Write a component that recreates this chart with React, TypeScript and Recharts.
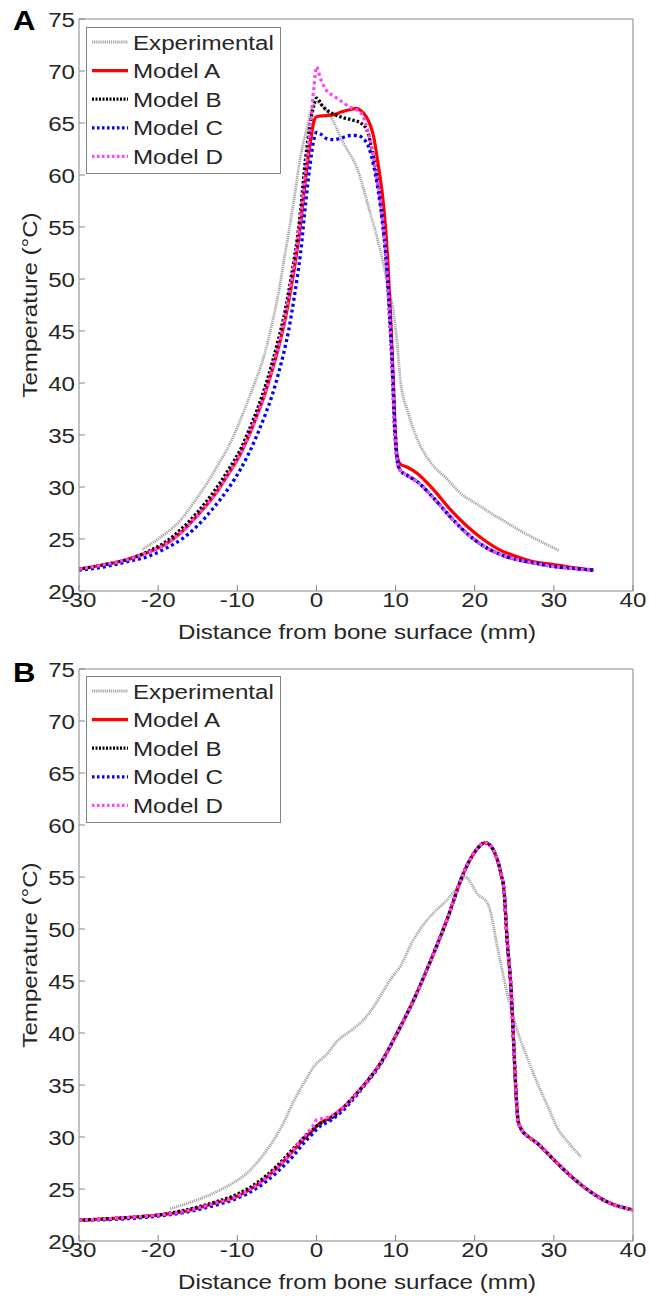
import React from 'react';
import { LineChart, Line, XAxis, YAxis } from 'recharts';

const FONT = '"Liberation Sans", Arial, Helvetica, sans-serif';
const SX = 1.15;
const TXT = '#262626';
const BOX = '#858585';

const xTicks = [-30, -20, -10, 0, 10, 20, 30, 40];
const yTicks = [20, 25, 30, 35, 40, 45, 50, 55, 60, 65, 70, 75];
const xLabel = 'Distance from bone surface (mm)';
const yLabel = 'Temperature (°C)';
const seriesNames = ['Experimental', 'Model A', 'Model B', 'Model C', 'Model D'];

// ---------- Panel A ----------
const expA: [number, number][] = [
  [-22, 24.0], [-20, 25.0], [-17.2, 26.8], [-15.5, 28.5], [-13.8, 30.4], [-12.3, 32.3],
  [-10.9, 34.2], [-9.8, 36.1], [-8.8, 38.0], [-7.8, 40.0], [-6.9, 41.9], [-6.1, 44.1],
  [-5.4, 46.4], [-4.7, 49.0], [-4.1, 51.8], [-3.5, 54.5], [-2.9, 57.3], [-2.0, 61.8],
  [-1.2, 64.5], [-0.5, 66.5], [0.2, 67.0], [0.9, 66.5], [1.8, 65.6], [3.4, 63.1],
  [5.2, 60.5], [6.7, 56.6], [8.0, 53.0], [9.0, 49.5], [9.8, 46.5], [10.3, 43.0],
  [10.6, 40.3], [11.6, 37.1], [12.8, 34.5], [14.4, 32.4], [16.6, 30.7], [18.2, 29.4],
  [20.4, 28.3], [22.0, 27.5], [24.0, 26.6], [26.2, 25.6], [28.5, 24.7], [30.6, 23.9],
];

const modelAA: [number, number][] = [
  [-30, 22.1], [-27, 22.5], [-24, 23.0], [-21, 23.8], [-19.3, 24.4], [-17, 25.7],
  [-15, 27.3], [-13, 29.1], [-11, 31.4], [-9.6, 33.2], [-8.5, 35.0], [-7.5, 36.9],
  [-6.5, 39.0], [-5.6, 41.2], [-4.8, 43.4], [-4.1, 45.6], [-3.5, 47.9], [-2.9, 50.5],
  [-2.4, 53.0], [-2.0, 55.3], [-1.4, 59.5], [-0.8, 63.0], [-0.3, 65.2], [0, 65.6],
  [1.0, 65.7], [2.2, 65.8], [3.3, 66.1], [4.3, 66.3], [5.0, 66.4], [5.6, 66.2],
  [6.3, 65.6], [6.8, 64.8], [7.2, 63.8], [7.8, 61.0], [8.5, 57.0], [9.0, 52.0],
  [9.4, 46.0], [9.7, 40.5], [9.95, 35.5], [10.2, 33.0], [10.6, 32.2], [11.5, 31.9],
  [12.75, 31.3], [14.85, 29.7], [16.96, 27.8], [19.07, 26.2], [21.18, 24.9], [23.29, 23.9],
  [25.4, 23.3], [27.5, 22.8], [29.6, 22.6], [32, 22.3], [35, 22.0],
];

const modelBA: [number, number][] = [
  [-30, 22.1], [-27, 22.5], [-24, 23.0], [-21, 23.9], [-19.3, 24.6], [-17, 26.0],
  [-15, 27.6], [-13, 29.5], [-11, 31.8], [-9.6, 33.6], [-8.5, 35.5], [-7.5, 37.4],
  [-6.5, 39.6], [-5.6, 41.9], [-4.8, 44.2], [-4.1, 46.4], [-3.5, 48.8], [-2.9, 51.5],
  [-2.4, 54.0], [-2.0, 56.6], [-1.4, 61.4], [-0.8, 64.8], [-0.3, 66.8], [0, 67.4],
  [0.8, 66.6], [1.8, 66.0], [3.0, 65.6], [4.5, 65.3], [5.6, 65.0], [6.4, 64.3],
  [7.0, 62.5], [7.5, 60.5], [8.1, 57.5], [8.7, 53.0], [9.2, 47.0], [9.6, 41.0],
  [9.85, 36.0], [10.1, 33.2], [10.5, 31.7], [11.5, 31.1], [12.75, 30.5], [14.85, 28.9],
  [16.96, 27.1], [19.07, 25.5], [21.18, 24.3], [23.29, 23.5], [25.4, 23.0], [27.5, 22.7],
  [29.6, 22.4], [32, 22.2], [35, 22.0],
];

const modelCA: [number, number][] = [
  [-30, 22.0], [-27, 22.3], [-24, 22.8], [-21, 23.4], [-19.3, 24.0], [-17, 25.0],
  [-15, 26.3], [-13, 28.0], [-11, 30.0], [-9.6, 31.7], [-8.5, 33.3], [-7.5, 35.0],
  [-6.5, 36.9], [-5.6, 38.8], [-4.8, 40.9], [-4.1, 43.0], [-3.5, 45.1], [-2.9, 47.8],
  [-2.4, 50.3], [-2.0, 52.5], [-1.4, 57.0], [-0.8, 61.0], [-0.3, 63.5], [0, 64.1],
  [0.6, 63.9], [1.3, 63.5], [2.2, 63.4], [3.3, 63.6], [4.3, 63.8], [5.2, 63.8],
  [5.9, 63.5], [6.6, 62.7], [7.2, 61.0], [7.8, 58.5], [8.4, 55.0], [9.0, 50.0],
  [9.4, 45.0], [9.7, 40.0], [9.95, 35.5], [10.2, 32.8], [10.6, 31.6], [11.5, 31.1],
  [12.75, 30.5], [14.85, 28.9], [16.96, 27.1], [19.07, 25.5], [21.18, 24.3], [23.29, 23.5],
  [25.4, 23.0], [27.5, 22.7], [29.6, 22.4], [32, 22.2], [35, 22.0],
];

const modelDA: [number, number][] = [
  [-30, 22.1], [-27, 22.5], [-24, 23.0], [-21, 23.8], [-19.3, 24.4], [-17, 25.7],
  [-15, 27.3], [-13, 29.1], [-11, 31.4], [-9.6, 33.2], [-8.5, 35.0], [-7.5, 36.9],
  [-6.5, 39.0], [-5.6, 41.3], [-4.8, 43.6], [-4.1, 45.9], [-3.5, 48.3], [-2.9, 51.0],
  [-2.4, 53.6], [-2.0, 56.0], [-1.4, 60.3], [-0.8, 64.5], [-0.3, 68.5], [0, 70.4],
  [0.5, 69.3], [1.2, 68.2], [2.2, 67.6], [3.3, 67.0], [4.3, 66.5], [5.0, 66.3],
  [5.6, 66.0], [6.4, 64.5], [7.0, 62.6], [7.5, 60.5], [8.1, 57.5], [8.7, 53.0],
  [9.2, 47.0], [9.6, 41.0], [9.85, 36.0], [10.1, 33.2], [10.5, 31.7], [11.5, 31.1],
  [12.75, 30.5], [14.85, 28.9], [16.96, 27.1], [19.07, 25.5], [21.18, 24.3], [23.29, 23.5],
  [25.4, 23.0], [27.5, 22.7], [29.6, 22.4], [32, 22.2], [35, 22.0],
];

// ---------- Panel B ----------
const expB: [number, number][] = [
  [-18.5, 23.1], [-16, 23.7], [-13, 24.6], [-10.5, 25.6], [-8.8, 26.5], [-7, 28.0],
  [-5.4, 29.7], [-4, 31.6], [-2.9, 33.4], [-1.5, 35.3], [-0.3, 36.8], [1.35, 38.0],
  [2.6, 39.2], [4.3, 40.2], [6.0, 41.3], [7.3, 42.6], [8.5, 44.1], [9.6, 45.4],
  [10.6, 46.4], [12.0, 48.6], [13.6, 50.5], [15.0, 51.7], [16.5, 52.8], [17.8, 54.0],
  [18.9, 55.0], [19.6, 54.3], [20.3, 53.4], [21.6, 52.5], [22.2, 51.0], [22.7, 48.9],
  [23.4, 46.3], [24.1, 43.8], [25.0, 41.2], [25.8, 39.3], [26.8, 37.3], [27.9, 35.2],
  [29.2, 33.0], [30.5, 30.8], [31.8, 29.5], [33.4, 28.1],
];

const modelAB: [number, number][] = [
  [-30, 22.0], [-25, 22.2], [-20, 22.5], [-17, 22.8], [-13, 23.6], [-10, 24.3],
  [-7.5, 25.4], [-5, 27.0], [-2.9, 28.7], [-1.5, 29.9], [-0.5, 30.6], [0.1, 31.1],
  [1.8, 31.9], [3.0, 32.6], [4.5, 33.7], [6.0, 35.0], [8.1, 37.1], [10.2, 40.0],
  [12.3, 43.2], [14.4, 46.9], [16.5, 50.9], [18.6, 55.4], [20.3, 57.7], [21.3, 58.3],
  [22.0, 58.0], [22.7, 57.0], [23.3, 55.4], [23.7, 53.7], [24.1, 48.9], [24.6, 44.1],
  [25.0, 37.7], [25.2, 34.5], [25.5, 31.5], [26.0, 30.6], [26.5, 30.2], [27.9, 29.4],
  [30.0, 27.8], [32.2, 26.2], [34.3, 24.9], [37.2, 23.6], [40, 23.0],
];

const modelBB: [number, number][] = [
  [-30, 22.0], [-25, 22.2], [-20, 22.5], [-17, 22.9], [-13, 23.7], [-10, 24.5],
  [-7.5, 25.6], [-5, 27.2], [-2.9, 28.9], [-1.5, 30.0], [-0.5, 30.7], [0.1, 31.1],
  [1.8, 31.8], [3.0, 32.5], [4.5, 33.7], [6.0, 35.0], [8.1, 37.1], [10.2, 40.0],
  [12.3, 43.2], [14.4, 46.9], [16.5, 50.9], [18.6, 55.4], [20.3, 57.7], [21.3, 58.3],
  [22.0, 58.0], [22.7, 57.0], [23.3, 55.4], [23.7, 53.7], [24.1, 48.9], [24.6, 44.1],
  [25.0, 37.7], [25.2, 34.5], [25.5, 31.5], [26.0, 30.6], [26.5, 30.2], [27.9, 29.4],
  [30.0, 27.8], [32.2, 26.2], [34.3, 24.9], [37.2, 23.6], [40, 23.0],
];

const modelCB: [number, number][] = [
  [-30, 22.0], [-25, 22.1], [-20, 22.4], [-17, 22.7], [-13, 23.4], [-10, 24.1],
  [-7.5, 25.1], [-5, 26.6], [-2.9, 28.2], [-1.5, 29.5], [-0.5, 30.3], [0.1, 30.8],
  [1.8, 31.6], [3.0, 32.3], [4.5, 33.5], [6.0, 34.9], [8.1, 37.0], [10.2, 40.0],
  [12.3, 43.2], [14.4, 46.9], [16.5, 50.9], [18.6, 55.4], [20.3, 57.7], [21.3, 58.3],
  [22.0, 58.0], [22.7, 57.0], [23.3, 55.4], [23.7, 53.7], [24.1, 48.9], [24.6, 44.1],
  [25.0, 37.7], [25.2, 34.5], [25.5, 31.5], [26.0, 30.6], [26.5, 30.2], [27.9, 29.4],
  [30.0, 27.8], [32.2, 26.2], [34.3, 24.9], [37.2, 23.6], [40, 23.0],
];

const modelDB: [number, number][] = [
  [-30, 22.0], [-25, 22.2], [-20, 22.5], [-17, 22.8], [-13, 23.6], [-10, 24.3],
  [-7.5, 25.4], [-5, 27.0], [-2.9, 28.8], [-1.5, 30.1], [-0.5, 31.0], [0.1, 31.7],
  [1.0, 31.8], [1.8, 32.0], [3.0, 32.6], [4.5, 33.7], [6.0, 35.0], [8.1, 37.1],
  [10.2, 40.0], [12.3, 43.2], [14.4, 46.9], [16.5, 50.9], [18.6, 55.4], [20.3, 57.7],
  [21.3, 58.3], [22.0, 58.0], [22.7, 57.0], [23.3, 55.4], [23.7, 53.7], [24.1, 48.9],
  [24.6, 44.1], [25.0, 37.7], [25.2, 34.5], [25.5, 31.5], [26.0, 30.6], [26.5, 30.2],
  [27.9, 29.4], [30.0, 27.8], [32.2, 26.2], [34.3, 24.9], [37.2, 23.6], [40, 23.0],
];

type Style = { stroke: string; width: number; dash?: string; legendDash?: string };
const styles: Style[] = [
  { stroke: '#a3a3a3', width: 2.8, dash: '1.2 0.9', legendDash: '1.2 0.9' },
  { stroke: '#ff0000', width: 3.2 },
  { stroke: '#000000', width: 3.3, dash: '2.5 2', legendDash: '2 1.5' },
  { stroke: '#0000ff', width: 3.3, dash: '3 3', legendDash: '2.5 2.5' },
  { stroke: '#ff44ff', width: 3.3, dash: '3 3', legendDash: '2.5 2.5' },
];

const toPts = (a: [number, number][]) => a.map(([x, t]) => ({ x, t }));

const XTick = (props: any) => {
  const { x, y, payload } = props;
  return (
    <text transform={`translate(${x} ${y + 7}) scale(${SX} 1)`} textAnchor="middle"
      fontFamily={FONT} fontSize={21} fill={TXT}>{payload.value}</text>
  );
};
const YTick = (props: any) => {
  const { x, y, payload } = props;
  return (
    <text transform={`translate(${x} ${y + 7.5}) scale(${SX} 1)`} textAnchor="end"
      fontFamily={FONT} fontSize={21} fill={TXT}>{payload.value}</text>
  );
};

type PanelProps = {
  top: number; height: number; plotTop: number; plotBottom: number;
  letter: string; letterY: number; legendTop: number;
  series: [number, number][][];
};

const Panel = ({ top, height, plotTop, plotBottom, letter, letterY, legendTop, series }: PanelProps) => {
  const bottomH = height - (plotBottom - top);
  const mid = (plotTop + plotBottom) / 2 - top;
  return (
    <div style={{ position: 'absolute', left: 0, top, width: 649, height }}>
      <LineChart width={649} height={height}
        margin={{ top: plotTop - top - 1, right: 15, bottom: 0, left: 0 }}>
        <XAxis xAxisId="b" dataKey="x" type="number" domain={[-30, 40]} ticks={xTicks}
          allowDataOverflow interval={0} height={bottomH} tickSize={-6} tickMargin={15}
          stroke={BOX} tickLine={{ stroke: BOX }} tick={<XTick />} />
        <XAxis xAxisId="t" orientation="top" dataKey="x" type="number" domain={[-30, 40]}
          ticks={xTicks} allowDataOverflow interval={0} height={1} tickSize={-6}
          stroke={BOX} tickLine={{ stroke: BOX }} tick={false} />
        <YAxis yAxisId="l" type="number" domain={[20, 75]} ticks={yTicks} allowDataOverflow
          interval={0} width={79} tickSize={-6} tickMargin={10} stroke={BOX}
          tickLine={{ stroke: BOX }} tick={<YTick />} />
        <YAxis yAxisId="r" orientation="right" type="number" domain={[20, 75]} ticks={yTicks}
          allowDataOverflow interval={0} width={1} tickSize={-6} stroke={BOX}
          tickLine={{ stroke: BOX }} tick={false} />
        {series.map((s, i) => (
          <Line key={seriesNames[i]} name={seriesNames[i]} xAxisId="b" yAxisId="l"
            data={toPts(s)} dataKey="t" type="monotone" dot={false} activeDot={false}
            stroke={styles[i].stroke} strokeWidth={styles[i].width}
            strokeDasharray={styles[i].dash} isAnimationActive={false} />
        ))}
      </LineChart>
      <svg width={649} height={height} style={{ position: 'absolute', left: 0, top: 0, pointerEvents: 'none' }}>
        <text transform={`translate(13 ${letterY - top}) scale(${SX} 1)`} fontFamily={FONT}
          fontWeight="bold" fontSize={27} fill="#000">{letter}</text>
        <text transform={`translate(37 ${mid}) rotate(-90) scale(${SX} 1)`} textAnchor="middle"
          fontFamily={FONT} fontSize={21} fill={TXT}>{yLabel}</text>
        <text transform={`translate(357 ${plotBottom - top + 48}) scale(${SX} 1)`} textAnchor="middle"
          fontFamily={FONT} fontSize={21} fill={TXT}>{xLabel}</text>
        <g transform={`translate(86 ${legendTop - top})`}>
          <rect x={0.5} y={0.5} width={194} height={146} fill="#fff" stroke={BOX} strokeWidth={1} />
          {seriesNames.map((n, i) => {
            const cy = 15 + i * 28.6;
            return (
              <g key={n}>
                <line x1={6} x2={42} y1={cy} y2={cy} stroke={styles[i].stroke}
                  strokeWidth={styles[i].width} strokeDasharray={styles[i].legendDash} />
                <text transform={`translate(47 ${cy + 7.5}) scale(${SX} 1)`} fontFamily={FONT}
                  fontSize={21} fill={TXT}>{n}</text>
              </g>
            );
          })}
        </g>
      </svg>
    </div>
  );
}

export default function App() {
  return (
    <div style={{ position: 'absolute', left: 0, top: 0, width: 649, height: 1297, background: '#fff' }}>
      <Panel top={0} height={648} plotTop={19} plotBottom={591} letter="A" letterY={30}
        legendTop={27} series={[expA, modelAA, modelBA, modelCA, modelDA]} />
      <Panel top={648} height={649} plotTop={669} plotBottom={1241} letter="B" letterY={682}
        legendTop={676} series={[expB, modelAB, modelBB, modelCB, modelDB]} />
    </div>
  );
}
